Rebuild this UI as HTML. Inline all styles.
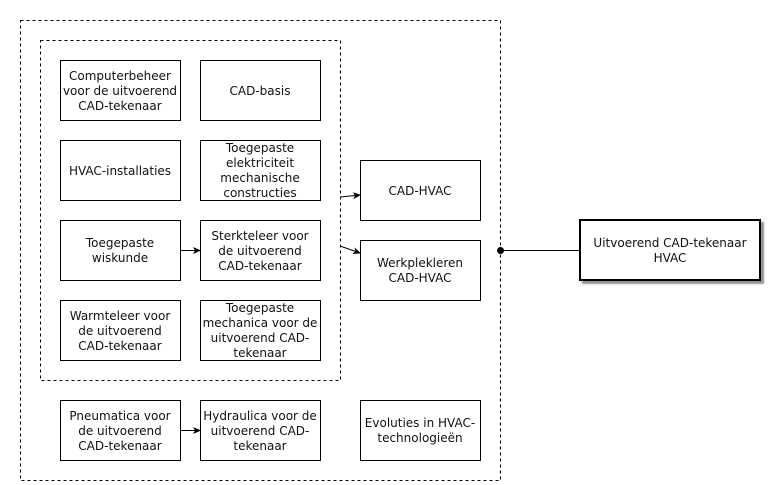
<!DOCTYPE html>
<html><head><meta charset="utf-8"><style>
html,body{margin:0;padding:0;background:#fff;}
svg{display:block}
text{font-family:"DejaVu Sans","Liberation Sans",sans-serif;font-size:12px;fill:#111;text-anchor:middle}
</style></head><body>
<svg width="768" height="485" viewBox="0 0 768 485" xmlns="http://www.w3.org/2000/svg">
<defs>
<marker id="a" markerWidth="8" markerHeight="8" refX="7" refY="4" orient="auto" markerUnits="userSpaceOnUse"><path d="M0,0.5 L8,4 L0,7.5 L2,4 Z" fill="#000"/></marker>
<filter id="sh"><feDropShadow dx="3" dy="3" stdDeviation="0.8" flood-color="#777" flood-opacity="0.8"/></filter>
</defs>
<g fill="none" stroke="#000" stroke-width="1">
<rect x="20.5" y="20.5" width="480" height="460" stroke-dasharray="3,3"/>
<rect x="40.5" y="40.5" width="300" height="340" stroke-dasharray="3,3"/>
<rect x="60.5" y="60.5" width="120" height="60"/>
<rect x="200.5" y="60.5" width="120" height="60"/>
<rect x="60.5" y="140.5" width="120" height="60"/>
<rect x="200.5" y="140.5" width="120" height="60"/>
<rect x="60.5" y="220.5" width="120" height="60"/>
<rect x="200.5" y="220.5" width="120" height="60"/>
<rect x="60.5" y="300.5" width="120" height="60"/>
<rect x="200.5" y="300.5" width="120" height="60"/>
<rect x="60.5" y="400.5" width="120" height="60"/>
<rect x="200.5" y="400.5" width="120" height="60"/>
<rect x="360.5" y="160.5" width="120" height="60"/>
<rect x="360.5" y="240.5" width="120" height="60"/>
<rect x="360.5" y="400.5" width="120" height="60"/>
<rect x="580" y="220" width="180" height="60" stroke-width="2" fill="#fff" filter="url(#sh)"/>
<line x1="180" y1="250.5" x2="200" y2="250.5" marker-end="url(#a)"/>
<line x1="180" y1="430.5" x2="200" y2="430.5" marker-end="url(#a)"/>
<line x1="340" y1="197" x2="360" y2="195" marker-end="url(#a)"/>
<line x1="340" y1="246" x2="360" y2="253" marker-end="url(#a)"/>
<line x1="500" y1="250.5" x2="580" y2="250.5"/>
</g>
<circle cx="500.5" cy="250.5" r="3.5" fill="#000"/>
<text x="120" y="80">Computerbeheer</text><text x="120" y="95">voor de uitvoerend</text><text x="120" y="110">CAD-tekenaar</text>
<text x="260" y="95">CAD-basis</text>
<text x="120" y="175">HVAC-installaties</text>
<text x="260" y="152">Toegepaste</text><text x="260" y="167">elektriciteit</text><text x="260" y="182">mechanische</text><text x="260" y="197">constructies</text>
<text x="120" y="247">Toegepaste</text><text x="120" y="262">wiskunde</text>
<text x="260" y="240">Sterkteleer voor</text><text x="260" y="255">de uitvoerend</text><text x="260" y="270">CAD-tekenaar</text>
<text x="120" y="320">Warmteleer voor</text><text x="120" y="335">de uitvoerend</text><text x="120" y="350">CAD-tekenaar</text>
<text x="260" y="312">Toegepaste</text><text x="260" y="327">mechanica voor de</text><text x="260" y="342">uitvoerend CAD-</text><text x="260" y="357">tekenaar</text>
<text x="120" y="420">Pneumatica voor</text><text x="120" y="435">de uitvoerend</text><text x="120" y="450">CAD-tekenaar</text>
<text x="260" y="420">Hydraulica voor de</text><text x="260" y="435">uitvoerend CAD-</text><text x="260" y="450">tekenaar</text>
<text x="420" y="195">CAD-HVAC</text>
<text x="420" y="267">Werkplekleren</text><text x="420" y="282">CAD-HVAC</text>
<text x="420" y="427">Evoluties in HVAC-</text><text x="420" y="442">technologieën</text>
<text x="670" y="247">Uitvoerend CAD-tekenaar</text><text x="670" y="262">HVAC</text>
</svg>
</body></html>
